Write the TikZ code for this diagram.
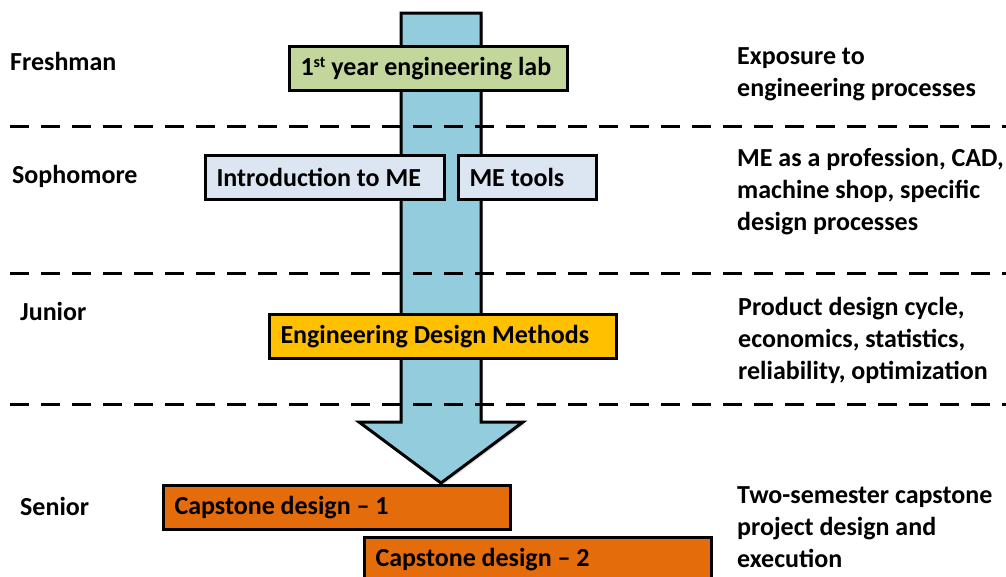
\documentclass[tikz,border=0pt]{standalone}
\usepackage{fontspec}
\setmainfont{Carlito}
\usetikzlibrary{positioning,shadows}

\definecolor{arrowblue}{HTML}{93CDDD}
\definecolor{labgreen}{HTML}{C3D69B}
\definecolor{paleblue}{HTML}{DCE6F2}
\definecolor{gold}{HTML}{FFC000}
\definecolor{burnt}{HTML}{E46C0A}

\begin{document}
\begin{tikzpicture}[
  x=1pt, y=-1pt,
  every node/.style={
    font=\bfseries\fontsize{26}{32}\selectfont,
    inner sep=0pt,
    text=black
  },
  course/.style={
    rectangle,
    draw=black, line width=3pt,
    minimum height=44pt,
    inner xsep=11pt,
    align=flush left,
    anchor=north west
  },
  year/.style={anchor=base west},
  topics/.style={anchor=west, align=flush left},
  divider/.style={draw, line width=3pt, dash pattern=on 19pt off 12pt},
  bigarrow/.style={draw, line width=3pt, fill=arrowblue, line join=miter,
    drop shadow={opacity=0.25, shadow xshift=2pt, shadow yshift=-2pt}}
  ]
\useasboundingbox (0,0) rectangle (1006,576);
% the flow arrow behind the courses
\draw[bigarrow] (401,13) -- (481,13) -- (481,422) -- (523,422) -- (441,483)
                -- (359,422) -- (401,422) -- cycle;
\foreach \y in {126,273,404}
  \path[divider] (10,\y) -- (1006,\y);
% years
\node[year] (Fr) at (10,70) {Freshman};
\node[year] (So) at (12,183) {Sophomore};
\node[year] (Ju) at (20,320) {Junior};
\node[year] (Se) at (20,515) {Senior};
% courses
\node[course, fill=labgreen, text width=256pt] (Lab) at (288,45)
  {1\raisebox{0.6ex}{\fontsize{16}{16}\selectfont st} year engineering lab};
\node[course, fill=paleblue, text width=217pt] (Intro) at (204,154) {Introduction to ME};
\node[course, fill=paleblue, text width=116pt] (Tools) at (457,154) {ME tools};
\node[course, fill=gold, text width=325pt] (EDM) at (268,313) {Engineering Design Methods};
\node[course, fill=burnt, text width=325pt] (Cap1) at (162,484) {Capstone design -- 1};
\node[course, fill=burnt, text width=325pt] (Cap2) at (363,536) {Capstone design -- 2};
% topics
\node[topics] (T1) at (737,74) {Exposure to\\engineering processes};
\node[topics] (T2) at (737,192) {ME as a profession, CAD,\\machine shop, specific\\design processes};
\node[topics] (T3) at (738,340) {Product design cycle,\\economics, statistics,\\reliability, optimization};
\node[topics] (T4) at (737,527) {Two-semester capstone\\project design and\\execution};
\end{tikzpicture}
\end{document}
